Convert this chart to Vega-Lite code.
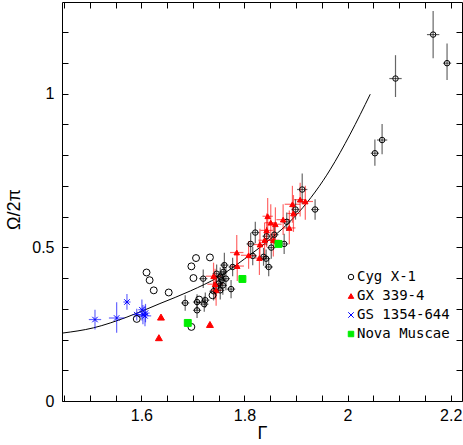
{
  "$schema": "https://vega.github.io/schema/vega-lite/v6.json",
  "width": 400,
  "height": 399,
  "autosize": "none",
  "padding": {"left": 62, "top": 2, "right": 1, "bottom": 44},
  "background": "white",
  "config": {
    "view": {"stroke": "black", "strokeWidth": 1},
    "axis": {
      "labelFont": "Liberation Sans", "labelFontSize": 16, "labelColor": "black",
      "titleFont": "Liberation Sans", "titleFontSize": 18, "titleFontWeight": "normal", "titleColor": "black",
      "tickColor": "black", "tickWidth": 1, "domain": false, "grid": false,
      "labelOverlap": false, "labelFlush": false
    },
    "legend": {
      "labelFont": "DejaVu Sans Mono", "labelFontSize": 14, "symbolSize": 30,
      "symbolStrokeWidth": 1, "rowPadding": 5, "labelOffset": -1, "padding": 0,
      "orient": "none", "legendX": 282, "legendY": 268
    }
  },
  "datasets": {
    "curve": [
      {"x": 1.447, "y": 0.221}, {"x": 1.507, "y": 0.238}, {"x": 1.572, "y": 0.273},
      {"x": 1.636, "y": 0.317}, {"x": 1.695, "y": 0.358}, {"x": 1.75, "y": 0.404},
      {"x": 1.8, "y": 0.462}, {"x": 1.856, "y": 0.535}, {"x": 1.889, "y": 0.585},
      {"x": 1.921, "y": 0.645}, {"x": 1.953, "y": 0.718}, {"x": 1.966, "y": 0.752},
      {"x": 2.005, "y": 0.868}, {"x": 2.044, "y": 0.998}
    ],
    "err": [
      {"s": "Cyg X-1", "x": 2.166, "y": 1.192, "xl": 2.154, "xh": 2.178, "yl": 1.115, "yh": 1.269},
      {"s": "Cyg X-1", "x": 2.193, "y": 1.099, "xl": 2.185, "xh": 2.201, "yl": 1.044, "yh": 1.163},
      {"s": "Cyg X-1", "x": 2.093, "y": 1.049, "xl": 2.081, "xh": 2.105, "yl": 0.989, "yh": 1.125},
      {"s": "Cyg X-1", "x": 2.067, "y": 0.849, "xl": 2.057, "xh": 2.077, "yl": 0.803, "yh": 0.901},
      {"s": "Cyg X-1", "x": 2.053, "y": 0.806, "xl": 2.045, "xh": 2.061, "yl": 0.765, "yh": 0.851},
      {"s": "Cyg X-1", "x": 1.912, "y": 0.688, "xl": 1.902, "xh": 1.922, "yl": 0.64, "yh": 0.74},
      {"s": "Cyg X-1", "x": 1.937, "y": 0.623, "xl": 1.929, "xh": 1.945, "yl": 0.59, "yh": 0.656},
      {"s": "Cyg X-1", "x": 1.899, "y": 0.623, "xl": 1.891, "xh": 1.907, "yl": 0.59, "yh": 0.656},
      {"s": "Cyg X-1", "x": 1.882, "y": 0.583, "xl": 1.874, "xh": 1.89, "yl": 0.553, "yh": 0.613},
      {"s": "Cyg X-1", "x": 1.858, "y": 0.541, "xl": 1.85, "xh": 1.866, "yl": 0.51, "yh": 0.572},
      {"s": "Cyg X-1", "x": 1.821, "y": 0.548, "xl": 1.813, "xh": 1.829, "yl": 0.513, "yh": 0.583},
      {"s": "Cyg X-1", "x": 1.877, "y": 0.511, "xl": 1.869, "xh": 1.885, "yl": 0.478, "yh": 0.544},
      {"s": "Cyg X-1", "x": 1.852, "y": 0.499, "xl": 1.844, "xh": 1.86, "yl": 0.463, "yh": 0.535},
      {"s": "Cyg X-1", "x": 1.812, "y": 0.511, "xl": 1.804, "xh": 1.82, "yl": 0.475, "yh": 0.547},
      {"s": "Cyg X-1", "x": 1.843, "y": 0.536, "xl": 1.835, "xh": 1.851, "yl": 0.506, "yh": 0.566},
      {"s": "Cyg X-1", "x": 1.816, "y": 0.472, "xl": 1.808, "xh": 1.824, "yl": 0.442, "yh": 0.502},
      {"s": "Cyg X-1", "x": 1.837, "y": 0.469, "xl": 1.829, "xh": 1.845, "yl": 0.44, "yh": 0.498},
      {"s": "Cyg X-1", "x": 1.842, "y": 0.463, "xl": 1.834, "xh": 1.85, "yl": 0.433, "yh": 0.493},
      {"s": "Cyg X-1", "x": 1.847, "y": 0.436, "xl": 1.839, "xh": 1.855, "yl": 0.406, "yh": 0.466},
      {"s": "Cyg X-1", "x": 1.777, "y": 0.436, "xl": 1.769, "xh": 1.785, "yl": 0.406, "yh": 0.466},
      {"s": "Cyg X-1", "x": 1.761, "y": 0.442, "xl": 1.753, "xh": 1.769, "yl": 0.402, "yh": 0.482},
      {"s": "Cyg X-1", "x": 1.774, "y": 0.364, "xl": 1.766, "xh": 1.782, "yl": 0.334, "yh": 0.394},
      {"s": "Cyg X-1", "x": 1.72, "y": 0.398, "xl": 1.712, "xh": 1.728, "yl": 0.368, "yh": 0.428},
      {"s": "Cyg X-1", "x": 1.746, "y": 0.414, "xl": 1.738, "xh": 1.754, "yl": 0.384, "yh": 0.444},
      {"s": "Cyg X-1", "x": 1.753, "y": 0.404, "xl": 1.745, "xh": 1.761, "yl": 0.374, "yh": 0.434},
      {"s": "Cyg X-1", "x": 1.756, "y": 0.393, "xl": 1.748, "xh": 1.764, "yl": 0.363, "yh": 0.423},
      {"s": "Cyg X-1", "x": 1.75, "y": 0.382, "xl": 1.742, "xh": 1.758, "yl": 0.352, "yh": 0.412},
      {"s": "Cyg X-1", "x": 1.745, "y": 0.371, "xl": 1.737, "xh": 1.753, "yl": 0.341, "yh": 0.401},
      {"s": "Cyg X-1", "x": 1.74, "y": 0.357, "xl": 1.732, "xh": 1.748, "yl": 0.327, "yh": 0.387},
      {"s": "Cyg X-1", "x": 1.758, "y": 0.376, "xl": 1.75, "xh": 1.766, "yl": 0.346, "yh": 0.406},
      {"s": "Cyg X-1", "x": 1.759, "y": 0.42, "xl": 1.751, "xh": 1.767, "yl": 0.39, "yh": 0.45},
      {"s": "Cyg X-1", "x": 1.753, "y": 0.36, "xl": 1.745, "xh": 1.761, "yl": 0.33, "yh": 0.39},
      {"s": "Cyg X-1", "x": 1.685, "y": 0.319, "xl": 1.677, "xh": 1.693, "yl": 0.294, "yh": 0.344},
      {"s": "Cyg X-1", "x": 1.708, "y": 0.322, "xl": 1.7, "xh": 1.716, "yl": 0.297, "yh": 0.347},
      {"s": "Cyg X-1", "x": 1.724, "y": 0.328, "xl": 1.716, "xh": 1.732, "yl": 0.303, "yh": 0.353},
      {"s": "Cyg X-1", "x": 1.722, "y": 0.315, "xl": 1.714, "xh": 1.73, "yl": 0.29, "yh": 0.34},
      {"s": "Cyg X-1", "x": 1.708, "y": 0.295, "xl": 1.7, "xh": 1.716, "yl": 0.27, "yh": 0.32},
      {"s": "Cyg X-1", "x": 1.764, "y": 0.398, "xl": 1.756, "xh": 1.772, "yl": 0.36, "yh": 0.436},
      {"s": "GX 339-4", "x": 1.74, "y": 0.406, "xl": 1.725, "xh": 1.755, "yl": 0.36, "yh": 0.45},
      {"s": "GX 339-4", "x": 1.743, "y": 0.38, "xl": 1.728, "xh": 1.758, "yl": 0.33, "yh": 0.43},
      {"s": "GX 339-4", "x": 1.745, "y": 0.36, "xl": 1.735, "xh": 1.755, "yl": 0.31, "yh": 0.41},
      {"s": "GX 339-4", "x": 1.785, "y": 0.483, "xl": 1.772, "xh": 1.798, "yl": 0.43, "yh": 0.54},
      {"s": "GX 339-4", "x": 1.808, "y": 0.474, "xl": 1.793, "xh": 1.823, "yl": 0.43, "yh": 0.52},
      {"s": "GX 339-4", "x": 1.786, "y": 0.439, "xl": 1.773, "xh": 1.799, "yl": 0.39, "yh": 0.49},
      {"s": "GX 339-4", "x": 1.83, "y": 0.509, "xl": 1.818, "xh": 1.842, "yl": 0.46, "yh": 0.56},
      {"s": "GX 339-4", "x": 1.829, "y": 0.465, "xl": 1.819, "xh": 1.839, "yl": 0.41, "yh": 0.52},
      {"s": "GX 339-4", "x": 1.843, "y": 0.555, "xl": 1.831, "xh": 1.855, "yl": 0.5, "yh": 0.61},
      {"s": "GX 339-4", "x": 1.839, "y": 0.523, "xl": 1.827, "xh": 1.851, "yl": 0.47, "yh": 0.58},
      {"s": "GX 339-4", "x": 1.845, "y": 0.601, "xl": 1.835, "xh": 1.855, "yl": 0.54, "yh": 0.66},
      {"s": "GX 339-4", "x": 1.851, "y": 0.58, "xl": 1.839, "xh": 1.863, "yl": 0.52, "yh": 0.64},
      {"s": "GX 339-4", "x": 1.86, "y": 0.575, "xl": 1.848, "xh": 1.872, "yl": 0.52, "yh": 0.63},
      {"s": "GX 339-4", "x": 1.875, "y": 0.59, "xl": 1.862, "xh": 1.888, "yl": 0.54, "yh": 0.64},
      {"s": "GX 339-4", "x": 1.893, "y": 0.64, "xl": 1.878, "xh": 1.908, "yl": 0.58, "yh": 0.7},
      {"s": "GX 339-4", "x": 1.895, "y": 0.61, "xl": 1.883, "xh": 1.907, "yl": 0.55, "yh": 0.67},
      {"s": "GX 339-4", "x": 1.908, "y": 0.655, "xl": 1.896, "xh": 1.92, "yl": 0.6, "yh": 0.71},
      {"s": "GX 339-4", "x": 1.918, "y": 0.649, "xl": 1.903, "xh": 1.933, "yl": 0.59, "yh": 0.7},
      {"s": "GX 339-4", "x": 1.887, "y": 0.563, "xl": 1.875, "xh": 1.899, "yl": 0.51, "yh": 0.62},
      {"s": "GX 339-4", "x": 1.856, "y": 0.523, "xl": 1.844, "xh": 1.868, "yl": 0.47, "yh": 0.58},
      {"s": "GS 1354-644", "x": 1.51, "y": 0.265, "xl": 1.498, "xh": 1.522, "yl": 0.233, "yh": 0.297},
      {"s": "GS 1354-644", "x": 1.552, "y": 0.27, "xl": 1.537, "xh": 1.567, "yl": 0.222, "yh": 0.321},
      {"s": "GS 1354-644", "x": 1.572, "y": 0.322, "xl": 1.565, "xh": 1.579, "yl": 0.297, "yh": 0.348},
      {"s": "GS 1354-644", "x": 1.601, "y": 0.297, "xl": 1.594, "xh": 1.608, "yl": 0.262, "yh": 0.33},
      {"s": "GS 1354-644", "x": 1.591, "y": 0.281, "xl": 1.583, "xh": 1.599, "yl": 0.262, "yh": 0.3},
      {"s": "GS 1354-644", "x": 1.603, "y": 0.281, "xl": 1.593, "xh": 1.613, "yl": 0.25, "yh": 0.312},
      {"s": "GS 1354-644", "x": 1.607, "y": 0.277, "xl": 1.595, "xh": 1.619, "yl": 0.243, "yh": 0.31},
      {"s": "GS 1354-644", "x": 1.608, "y": 0.286, "xl": 1.6, "xh": 1.616, "yl": 0.256, "yh": 0.316}
    ],
    "plain": [
      {"s": "Cyg X-1", "x": 1.61, "y": 0.418},
      {"s": "Cyg X-1", "x": 1.616, "y": 0.393},
      {"s": "Cyg X-1", "x": 1.624, "y": 0.36},
      {"s": "Cyg X-1", "x": 1.653, "y": 0.353},
      {"s": "Cyg X-1", "x": 1.706, "y": 0.465},
      {"s": "Cyg X-1", "x": 1.733, "y": 0.467},
      {"s": "Cyg X-1", "x": 1.697, "y": 0.438},
      {"s": "Cyg X-1", "x": 1.701, "y": 0.4},
      {"s": "Cyg X-1", "x": 1.591, "y": 0.267},
      {"s": "Cyg X-1", "x": 1.697, "y": 0.241},
      {"s": "Cyg X-1", "x": 1.712, "y": 0.33},
      {"s": "Cyg X-1", "x": 1.738, "y": 0.344},
      {"s": "GX 339-4", "x": 1.638, "y": 0.273},
      {"s": "GX 339-4", "x": 1.634, "y": 0.206},
      {"s": "GX 339-4", "x": 1.733, "y": 0.249},
      {"s": "Nova Muscae", "x": 1.69, "y": 0.254},
      {"s": "Nova Muscae", "x": 1.796, "y": 0.397},
      {"s": "Nova Muscae", "x": 1.866, "y": 0.511}
    ]
  },
  "resolve": {"axis": {"x": "independent", "y": "independent"}},
  "layer": [
    {
      "data": {"name": "curve"},
      "mark": {"type": "line", "color": "black", "strokeWidth": 1, "interpolate": "monotone", "clip": true},
      "encoding": {
        "x": {"field": "x", "type": "quantitative",
          "scale": {"domain": [1.446, 2.222], "nice": false, "zero": false},
          "axis": {"orient": "bottom", "title": "Γ", "format": "~g", "offset": -6,
            "tickCount": 16, "ticks": true, "tickSize": 6,
            "labelExpr": "abs(datum.value*5-round(datum.value*5))<0.001 ? datum.label : ''",
            "labelPadding": 6, "titlePadding": 1}},
        "y": {"field": "y", "type": "quantitative",
          "scale": {"domain": [0, 1.298], "nice": false, "zero": false},
          "axis": {"orient": "left", "title": "Ω/2π", "format": "~g", "offset": -6,
            "tickCount": 13, "ticks": true, "tickSize": 6,
            "labelExpr": "abs(datum.value*2-round(datum.value*2))<0.001 ? datum.label : ''",
            "labelPadding": 8, "titlePadding": 8, "titleY": 207}}
      }
    },
    {
      "data": {"name": "err"},
      "mark": {"type": "rule", "strokeWidth": 1.2, "strokeOpacity": 0.6},
      "encoding": {
        "x": {"field": "xl", "type": "quantitative", "axis": null},
        "x2": {"field": "xh"},
        "y": {"field": "y", "type": "quantitative", "axis": null},
        "stroke": {"field": "s", "type": "nominal"}
      }
    },
    {
      "data": {"name": "err"},
      "mark": {"type": "rule", "strokeWidth": 1.2, "strokeOpacity": 0.6},
      "encoding": {
        "x": {"field": "x", "type": "quantitative", "axis": null},
        "y": {"field": "yl", "type": "quantitative", "axis": null},
        "y2": {"field": "yh"},
        "stroke": {"field": "s", "type": "nominal"}
      }
    },
    {
      "data": {"name": "err"},
      "mark": {"type": "point", "strokeWidth": 1, "opacity": 1, "size": 30},
      "encoding": {
        "x": {"field": "x", "type": "quantitative", "axis": null},
        "y": {"field": "y", "type": "quantitative", "axis": null},
        "shape": {"field": "s", "type": "nominal",
          "scale": {"domain": ["Cyg X-1", "GX 339-4", "GS 1354-644", "Nova Muscae"], "range": ["circle", "triangle-up", "M-1,-1L1,1M-1,1L1,-1", "square"]},
          "legend": {"title": null,
            "encode": {"labels": {"update": {"fill": {"signal": "datum.value === 'Cyg X-1' ? 'black' : datum.value === 'GX 339-4' ? '#ff0000' : datum.value === 'GS 1354-644' ? '#0000ff' : '#00ee00'"}}}}}},
        "stroke": {"field": "s", "type": "nominal",
          "scale": {"domain": ["Cyg X-1", "GX 339-4", "GS 1354-644", "Nova Muscae"], "range": ["black", "#ff0000", "#0000ff", "#00ee00"]},
          "legend": {"title": null}},
        "fill": {"field": "s", "type": "nominal",
          "scale": {"domain": ["Cyg X-1", "GX 339-4", "GS 1354-644", "Nova Muscae"], "range": ["transparent", "#ff0000", "#0000ff", "#00ee00"]},
          "legend": {"title": null}}
      }
    },
    {
      "data": {"name": "plain"},
      "mark": {"type": "point", "strokeWidth": 1, "size": 48, "opacity": 1},
      "encoding": {
        "x": {"field": "x", "type": "quantitative",
          "axis": {"orient": "top", "title": null, "labels": false, "offset": -6,
            "tickCount": 16, "ticks": true, "tickSize": 6}},
        "y": {"field": "y", "type": "quantitative",
          "axis": {"orient": "right", "title": null, "labels": false, "offset": -6,
            "tickCount": 13, "ticks": true, "tickSize": 6}},
        "shape": {"field": "s", "type": "nominal"},
        "stroke": {"field": "s", "type": "nominal"},
        "fill": {"field": "s", "type": "nominal"}
      }
    }
  ]
}
